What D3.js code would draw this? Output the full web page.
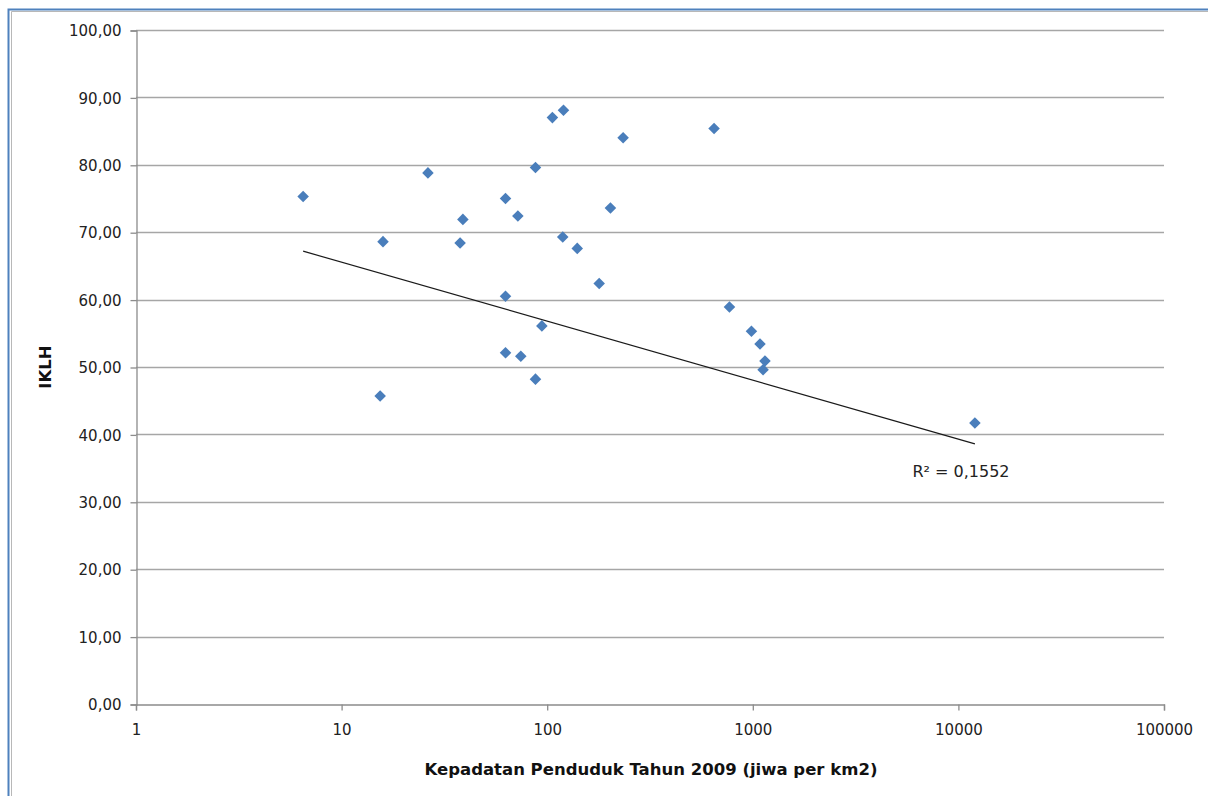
<!DOCTYPE html>
<html lang="en">
<head>
<meta charset="UTF-8">
<title>IKLH vs Kepadatan Penduduk</title>
<script src="https://d3js.org/d3.v7.min.js"></script>
<style>
    body { margin: 0; background: #fff; }
    svg { display: block; }
    .tick text { font: 15px "DejaVu Sans", sans-serif; fill: #222; }
    .grid line { stroke: #a6a6a6; stroke-width: 1.3px; }
    .axis-title { font: bold 16.5px "DejaVu Sans", sans-serif; fill: #111; }
</style>
</head>
<body>
<div id="chart"></div>
<script>
    // kepadatan penduduk (jiwa per km2) and IKLH
    var density = [6.5, 15.9, 15.4, 26.3, 38.9, 37.7, 62.7, 72.0, 87.7, 106, 120,
                   234, 119, 140, 203, 179, 62.7, 94.2, 62.7, 74.4, 87.7,
                   648, 770, 985, 1084, 1146, 1122, 12030];
    var iklh = [75.3, 68.6, 45.7, 78.8, 71.9, 68.4, 75.0, 72.4, 79.6, 87.0, 88.1,
                84.0, 69.3, 67.6, 73.6, 62.4, 60.5, 56.1, 52.1, 51.6, 48.2,
                85.4, 58.9, 55.3, 53.4, 50.9, 49.6, 41.7];
    var yTicks = [0, 10, 20, 30, 40, 50, 60, 70, 80, 90, 100];
    var xTicks = [1, 10, 100, 1000, 10000, 100000];
    // trendline y = a*ln(x) + b as drawn in the source chart
    var trendA = -3.80, trendB = 74.3;
    var r2Label = "R² = 0,1552";

    var width = 1208, height = 796;
    var margin = {left: 136, right: 44, top: 30, bottom: 92};

    var svg = d3.select("#chart").append("svg")
        .attr("width", width)
        .attr("height", height);

    // frame of the chart object
    svg.append("path")
        .attr("d", "M8.5," + height + "V9.5H" + width)
        .attr("fill", "none").attr("stroke", "#4f81bd").attr("stroke-width", 2);
    svg.append("path")
        .attr("d", "M11.5," + height + "V11.5H" + width)
        .attr("fill", "none").attr("stroke", "#b8b8b8").attr("stroke-width", 1);

    var x = d3.scaleLog()
        .domain([1, 100000])
        .range([margin.left, width - margin.right]);

    var y = d3.scaleLinear()
        .domain([0, 100])
        .range([height - margin.bottom, margin.top]);

    var fmt = d => d.toFixed(2).replace(".", ",");

    // horizontal gridlines
    svg.append("g")
        .attr("class", "grid")
        .selectAll("line")
        .data(yTicks.filter(d => d > 0))
        .enter().append("line")
            .attr("x1", x(1))
            .attr("x2", x(100000))
            .attr("y1", d => Math.round(y(d)) + 0.5)
            .attr("y2", d => Math.round(y(d)) + 0.5);

    var yAxis = svg.append("g")
        .attr("transform", "translate(" + (x(1) + 0.5) + ",0.5)")
        .call(d3.axisLeft(y).tickValues(yTicks).tickFormat(fmt).tickSize(6).tickPadding(9));
    yAxis.select(".domain").attr("stroke", "#8c8c8c").attr("stroke-width", 1.3);
    yAxis.selectAll(".tick line").attr("stroke", "#8c8c8c").attr("stroke-width", 1.3);
    yAxis.selectAll(".tick text").attr("dy", "0.35em");

    var xAxis = svg.append("g")
        .attr("transform", "translate(0," + (Math.round(y(0)) + 0.5) + ")")
        .call(d3.axisBottom(x).tickValues(xTicks).tickFormat(d3.format("d")).tickSize(6).tickPadding(14));
    xAxis.select(".domain").attr("stroke", "#8c8c8c").attr("stroke-width", 1.3);
    xAxis.selectAll(".tick line").attr("stroke", "#8c8c8c").attr("stroke-width", 1.3);

    var pts = density.map((d, i) => ({x: d, y: iklh[i]}));

    // logarithmic trendline across the range of the data
    var trend = d3.extent(density).map(v => [x(v), y(trendA * Math.log(v) + trendB)]);

    svg.append("path")
        .attr("d", d3.line()(trend))
        .attr("fill", "none")
        .attr("stroke", "#1a1a1a")
        .attr("stroke-width", 1.2);

    svg.append("text")
        .attr("x", 961)
        .attr("y", 477)
        .attr("text-anchor", "middle")
        .style("font", "16px 'DejaVu Sans', sans-serif")
        .attr("fill", "#222")
        .text(r2Label);

    // points
    svg.append("g")
        .selectAll("path")
        .data(pts)
        .enter().append("path")
            .attr("transform", d => "translate(" + x(d.x) + "," + y(d.y) + ")")
            .attr("d", d3.symbol().type(d3.symbolDiamond2).size(85))
            .attr("fill", "#4a7ebb");

    svg.append("text")
        .attr("class", "axis-title")
        .attr("x", 651)
        .attr("y", 775)
        .attr("text-anchor", "middle")
        .text("Kepadatan Penduduk Tahun 2009 (jiwa per km2)");

    svg.append("text")
        .attr("class", "axis-title")
        .attr("transform", "translate(51," + y(50) + ") rotate(-90)")
        .attr("text-anchor", "middle")
        .text("IKLH");
</script>
</body>
</html>
